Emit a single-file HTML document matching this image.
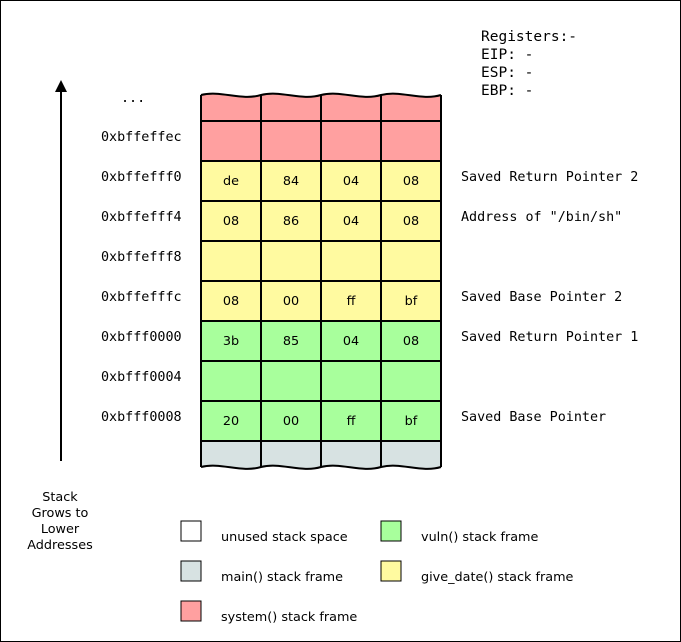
<!DOCTYPE html>
<html><head><meta charset="utf-8"><style>
body{margin:0;background:#fff}
svg{display:block}
.m{font-family:"DejaVu Sans Mono","Liberation Mono",monospace;font-size:13.4px}
.r{font-family:"DejaVu Sans Mono","Liberation Mono",monospace;font-size:14.5px}
.s{font-family:"DejaVu Sans","Liberation Sans",sans-serif;font-size:12.8px}
</style></head><body>
<svg id="svg" width="681" height="642" viewBox="0 0 681 642" xmlns="http://www.w3.org/2000/svg">
<rect x="0.5" y="0.5" width="680" height="641" fill="#fff" stroke="#000"/>
<g class="r">
<text x="481" y="41">Registers:-</text><text x="481" y="59">EIP: -</text><text x="481" y="77">ESP: -</text><text x="481" y="95">EBP: -</text>
</g>
<text class="m" x="121" y="102">...</text>
<g>
<line x1="61" y1="461" x2="61" y2="90" stroke="#000" stroke-width="2"/>
<polygon points="55,92 67,92 61,80" fill="#000"/>
</g>
<g class="s" text-anchor="middle">
<text x="60" y="501">Stack</text><text x="60" y="517">Grows to</text><text x="60" y="533">Lower</text><text x="60" y="549">Addresses</text>
</g>
<g id="grid"></g>
<g class="s">
<rect x="181" y="521" width="20" height="20" fill="#fff" stroke="#000"/><text x="221" y="541">unused stack space</text>
<rect x="181" y="561" width="20" height="20" fill="#d7e2e2" stroke="#000"/><text x="221" y="581">main() stack frame</text>
<rect x="181" y="601" width="20" height="20" fill="#ffa0a0" stroke="#000"/><text x="221" y="621">system() stack frame</text>
<rect x="381" y="521" width="20" height="20" fill="#a8ff9c" stroke="#000"/><text x="421" y="541">vuln() stack frame</text>
<rect x="381" y="561" width="20" height="20" fill="#fffaa0" stroke="#000"/><text x="421" y="581">give_date() stack frame</text>
</g>
</svg>
<script>
const addresses=["0xbffeffec","0xbffefff0","0xbffefff4","0xbffefff8","0xbffefffc","0xbfff0000","0xbfff0004","0xbfff0008"];
const rowColors=["#ffa0a0","#fffaa0","#fffaa0","#fffaa0","#fffaa0","#a8ff9c","#a8ff9c","#a8ff9c"];
const cellBytes=[["","","",""],["de","84","04","08"],["08","86","04","08"],["","","",""],["08","00","ff","bf"],["3b","85","04","08"],["","","",""],["20","00","ff","bf"]];
const notes=["","Saved Return Pointer 2","Address of \"/bin/sh\"","","Saved Base Pointer 2","Saved Return Pointer 1","","Saved Base Pointer"];
const NS="http://www.w3.org/2000/svg";
const gridG=document.getElementById('grid');
function mk(t,a){const e=document.createElementNS(NS,t);for(const k in a)e.setAttribute(k,a[k]);gridG.appendChild(e);return e;}
const X0=201,CW=60,Y0=121,RH=40;
function wave(y){let d=`M${X0},${y}`;for(let c=0;c<4;c++){const x=X0+c*CW;d+=` C${x+20},${y-5} ${x+40},${y+6} ${x+60},${y}`;}return d;}
const topWave=mk('path',{d:wave(95)+` L441,${Y0} L201,${Y0} Z`,fill:'#ffa0a0',stroke:'none'});


const botWave=mk('path',{d:wave(467)+` L441,441 L201,441 Z`,fill:'#d7e2e2',stroke:'none'});


addresses.forEach((a,r)=>{
 const y=Y0+r*RH;
 for(let c=0;c<4;c++){
  const rc=mk('rect',{x:X0+c*CW,y:y,width:CW,height:RH,fill:rowColors[r],stroke:'#000','stroke-width':2});
  
  
  if(cellBytes[r][c]){const t=mk('text',{x:X0+c*CW+30,y:y+24,'text-anchor':'middle','class':'s'});t.textContent=cellBytes[r][c];
   
   }
 }
 const at=mk('text',{x:101,y:y+20,'class':'m'});at.textContent=a;
 
 
 if(notes[r]){const n=mk('text',{x:461,y:y+20,'class':'m'});n.textContent=notes[r];
  
  }
});
for(let c=0;c<=4;c++){mk('line',{x1:X0+c*CW,y1:95,x2:X0+c*CW,y2:Y0,stroke:'#000','stroke-width':2});mk('line',{x1:X0+c*CW,y1:441,x2:X0+c*CW,y2:467,stroke:'#000','stroke-width':2});}
mk('path',{d:wave(95),fill:'none',stroke:'#000','stroke-width':2});
mk('path',{d:wave(467),fill:'none',stroke:'#000','stroke-width':2});
</script>
</body></html>
